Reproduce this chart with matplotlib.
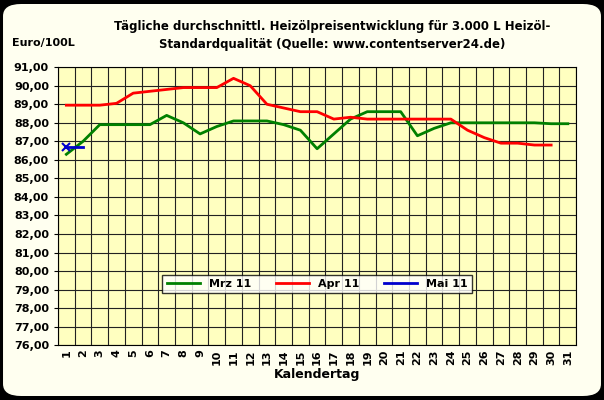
import matplotlib
matplotlib.use("Agg")
import matplotlib.pyplot as plt
from matplotlib.patches import FancyBboxPatch

days = list(range(1, 32))
mrz = [86.3, 87.0, 87.9, 87.9, 87.9, 87.9, 88.4, 88.0, 87.4, 87.8, 88.1, 88.1, 88.1, 87.9, 87.6, 86.6,
       87.4, 88.2, 88.6, 88.6, 88.6, 87.3, 87.7, 88.0, 88.0, 88.0, 88.0, 88.0, 88.0, 87.95, 87.95]
apr = [88.95, 88.95, 88.95, 89.05, 89.6, 89.7, 89.8, 89.9, 89.9, 89.9, 90.4, 90.0, 89.0, 88.8, 88.6,
       88.6, 88.2, 88.3, 88.2, 88.2, 88.2, 88.2, 88.2, 88.2, 87.6, 87.2, 86.9, 86.9, 86.8, 86.8]
mai = [86.7, 86.7]

fig = plt.figure(figsize=(6.04, 4.0), dpi=100)
fig.patch.set_facecolor("black")
fig.patches.append(FancyBboxPatch((0.005, 0.01), 0.99, 0.98, boxstyle="round,pad=0,rounding_size=0.03",
                                  transform=fig.transFigure, facecolor="#FFFFF0", edgecolor="none", zorder=-1))
ax = fig.add_axes([0.096, 0.137, 0.858, 0.695])
ax.set_facecolor("#FFFFC0")
ax.plot(days[:len(mrz)], mrz, color="#008000", lw=2)
ax.plot(days[:len(apr)], apr, color="#FF0000", lw=2)
ax.plot(days[:len(mai)], mai, color="#0000CC", lw=2, marker="x", ms=6, mew=1.5, markevery=[0])
ax.set_xlim(0.5, 31.5)
ax.set_ylim(76, 91)
ax.set_yticks(range(76, 92))
ax.set_yticklabels([f"{v},00" for v in range(76, 92)], fontsize=8, fontweight="bold")
ax.set_xticks(days)
ax.set_xticklabels([str(d) for d in days], fontsize=8, fontweight="bold", rotation=90)
ax.grid(False)
for d in range(0, 32):
    ax.axvline(d + 0.5, color="#222222", lw=0.8, zorder=0)
for v in range(76, 92):
    ax.axhline(v, color="#222222", lw=0.8, zorder=0)
ax.tick_params(axis="x", which="major", length=0, pad=3)
ax.tick_params(axis="y", length=3)
ax.set_xlabel("Kalendertag", fontsize=9, fontweight="bold", labelpad=2)
for s in ax.spines.values():
    s.set_color("black")
fig.text(0.02, 0.885, "Euro/100L", fontsize=8, fontweight="bold")
fig.text(0.55, 0.95, "Tägliche durchschnittl. Heizölpreisentwicklung für 3.000 L Heizöl-\nStandardqualität (Quelle: www.contentserver24.de)",
         ha="center", va="top", fontsize=8.5, fontweight="bold", linespacing=1.5)
leg = ax.legend(["Mrz 11", "Apr 11", "Mai 11"], loc="center", bbox_to_anchor=(0.5, 0.22), ncol=3,
                frameon=True, fancybox=False, edgecolor="black", facecolor="white",
                prop={"weight": "bold", "size": 8}, handlelength=3, columnspacing=2.2)
for h in leg.legend_handles:
    h.set_marker("")
fig.savefig("out.png", dpi=100, facecolor=fig.get_facecolor())
